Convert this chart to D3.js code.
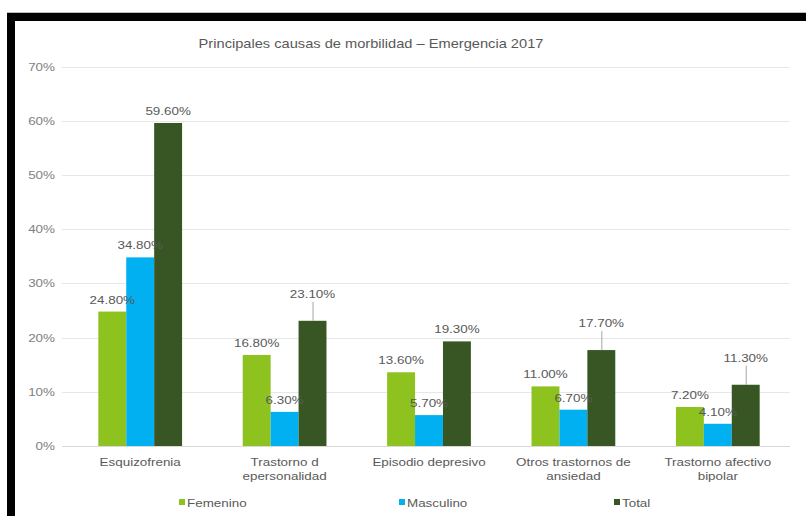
<!DOCTYPE html>
<html>
<head>
<meta charset="utf-8">
<script src="https://cdn.jsdelivr.net/npm/d3@7"></script>
<style>
  html, body { margin: 0; padding: 0; background: #fff; }
  svg { display: block; font-family: "Liberation Sans", Arial, sans-serif; }
</style>
</head>
<body>
<svg id="chart" width="806" height="516"></svg>
<script>
// Categories (line breaks as shown under the axis)
const categories = [
  "Esquizofrenia",
  "Trastorno d\nepersonalidad",
  "Episodio depresivo",
  "Otros trastornos de\nansiedad",
  "Trastorno afectivo\nbipolar"
];
const seriesNames = ["Femenino", "Masculino", "Total"];
const femenino  = [24.8, 16.8, 13.6, 11.0, 7.2];
const masculino = [34.8, 6.3, 5.7, 6.7, 4.1];
const total     = [59.6, 23.1, 19.3, 17.7, 11.3];
const yTicks    = [0, 10, 20, 30, 40, 50, 60, 70];
const title = "Principales causas de morbilidad \u2013 Emergencia 2017";

const colors = { Femenino: "#8DC21F", Masculino: "#00B0F0", Total: "#375623" };
const valuesBySeries = { Femenino: femenino, Masculino: masculino, Total: total };
// labels lifted above their bar with a leader line
const raised = new Set(["Total|1", "Total|3", "Total|4"]);

const SX = 1.22;          // horizontal text stretch
const textGray = "#595959";

const svg = d3.select("#chart");

// frame: black bands along the top and left edges
svg.append("rect").attr("x", 7).attr("y", 12).attr("width", 799).attr("height", 1).attr("fill", "#bdbdbd");
svg.append("rect").attr("x", 7).attr("y", 13).attr("width", 799).attr("height", 8).attr("fill", "#000");
svg.append("rect").attr("x", 7).attr("y", 13).attr("width", 8).attr("height", 503).attr("fill", "#000");

const plot = { left: 68, right: 790, top: 66.6, bottom: 446 };

const y = d3.scaleLinear().domain([0, 70]).range([plot.bottom, plot.top]);
const x0 = d3.scaleBand().domain(categories).range([plot.left, plot.right])
  .paddingInner(0.42).paddingOuter(0.21);
const x1 = d3.scaleBand().domain(seriesNames).range([0, x0.bandwidth()]);

function stretchedText(g, x, yy, str) {
  return g.append("text")
    .attr("transform", `translate(${x},${yy}) scale(${SX},1)`)
    .text(str);
}

// title
stretchedText(svg, 371, 48, title)
  .attr("text-anchor", "middle").attr("font-size", 12).attr("fill", textGray);

// gridlines
svg.append("g").selectAll("line").data(yTicks.filter(d => d > 0)).join("line")
  .attr("x1", 62).attr("x2", plot.right)
  .attr("y1", d => Math.round(y(d)) + 0.5).attr("y2", d => Math.round(y(d)) + 0.5)
  .attr("stroke", "#e7e7e7").attr("stroke-width", 1);

// y axis labels
const yAxis = svg.append("g");
yTicks.forEach(t => {
  stretchedText(yAxis, 55, y(t) + 4, d3.format(".0%")(t / 100))
    .attr("text-anchor", "end").attr("font-size", 11).attr("fill", "#7f7f7f");
});

// bars
const groups = svg.append("g").selectAll("g").data(categories).join("g")
  .attr("transform", d => `translate(${x0(d)},0)`);

groups.selectAll("rect")
  .data((c, i) => seriesNames.map(s => ({ s, v: valuesBySeries[s][i], i })))
  .join("rect")
  .attr("x", d => x1(d.s))
  .attr("y", d => y(d.v))
  .attr("width", x1.bandwidth())
  .attr("height", d => y(0) - y(d.v))
  .attr("fill", d => colors[d.s]);

// baseline
svg.append("line")
  .attr("x1", 62).attr("x2", plot.right)
  .attr("y1", Math.round(y(0)) + 0.5).attr("y2", Math.round(y(0)) + 0.5)
  .attr("stroke", "#d9d9d9");

// value labels
const labels = svg.append("g");
categories.forEach((c, i) => {
  seriesNames.forEach(s => {
    const v = valuesBySeries[s][i];
    const cx = x0(c) + x1(s) + x1.bandwidth() / 2;
    const top = y(v);
    const lifted = raised.has(s + "|" + i);
    const base = lifted ? top - 23 : top - 8;
    if (lifted) {
      labels.append("line")
        .attr("x1", cx + 0.5).attr("x2", cx + 0.5)
        .attr("y1", base + 4).attr("y2", top)
        .attr("stroke", "#a6a6a6").attr("stroke-width", 1);
    }
    stretchedText(labels, cx, base, d3.format(".2f")(v) + "%")
      .attr("text-anchor", "middle").attr("font-size", 11).attr("fill", "#595959");
  });
});

// category labels
const catG = svg.append("g");
categories.forEach(c => {
  const cx = x0(c) + x0.bandwidth() / 2;
  c.split("\n").forEach((line, k) => {
    stretchedText(catG, cx, 466 + k * 14, line)
      .attr("text-anchor", "middle").attr("font-size", 11).attr("fill", textGray);
  });
});

// legend
const legendX = [179, 399, 614];
const legend = svg.append("g");
seriesNames.forEach((s, k) => {
  legend.append("rect").attr("x", legendX[k]).attr("y", 499).attr("width", 6).attr("height", 6)
    .attr("fill", colors[s]);
  stretchedText(legend, legendX[k] + 8, 507, s)
    .attr("font-size", 11).attr("fill", textGray);
});
</script>
</body>
</html>
